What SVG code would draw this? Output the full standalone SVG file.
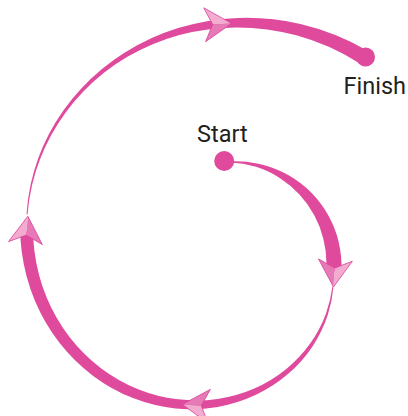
<svg xmlns="http://www.w3.org/2000/svg" xmlns:xlink="http://www.w3.org/1999/xlink" width="408" height="416" viewBox="0 0 408 416">
  <style>
    .band { fill: #df4a9d; stroke: none; }
    .dot { fill: #df4a9d; }
    .lbl { font-family: Roboto, "Liberation Sans", Arial, sans-serif; font-weight: 400; font-size: 23.5px; fill: #231f20; }
  </style>
  <defs>
    <g id="ah">
      <path d="M0,0 L-27,-17 L-19,0 Z" fill="#f3acd0"/>
      <path d="M0,0 L-19,0 L-27,17 Z" fill="#e67ab6"/>
      <path d="M0,0 L-27,-17 L-19,0 L-27,17 Z" fill="none" stroke="#d9449a" stroke-width="0.8" stroke-linejoin="round"/>
    </g>
  </defs>
  <rect width="408" height="416" fill="#ffffff"/>

  <g id="connectors">
    <path id="seg-start" class="band" d="M230,161.5 A103.3,103.3 0 0 1 256.94,163.46 A105,105 0 0 1 282.96,172.27 A106.8,106.8 0 0 1 306.19,187.81 A108.5,108.5 0 0 1 324.69,209.33 A110,110 0 0 1 336.9,235.36 A111,111 0 0 1 341.5,264 A111.5,111.5 0 0 1 341.32,271.78 L326.35,270.74 A96.5,96.5 0 0 0 326.5,264 A96.6,96.6 0 0 0 323.37,238.98 A97,97 0 0 0 314.29,215.33 A97.8,97.8 0 0 0 299.47,194.53 A98.8,98.8 0 0 0 279.71,177.9 A100,100 0 0 0 256.03,166.85 A101,101 0 0 0 230,162.5 Z"/>
    <path id="seg-loop" class="band" d="M333.4,286.9 A124,124 0 0 1 327.75,315.09 A130,130 0 0 1 312.51,346.41 A137,137 0 0 1 288.23,373.84 A145,145 0 0 1 256,394.81 A152,152 0 0 1 217.6,406.95 A159,159 0 0 1 175.53,408.51 A166,166 0 0 1 132.96,398.11 A172,172 0 0 1 93.16,375.94 A179,179 0 0 1 59.45,342.81 A186,186 0 0 1 34.79,300.49 A192,192 0 0 1 21.7,251.5 A197,197 0 0 1 20.15,230.75 L33.08,232.11 A185,185 0 0 0 34.5,251.5 A180,180 0 0 0 46.57,297.33 A174,174 0 0 0 69.49,337.01 A168,168 0 0 0 100.94,368.16 A162,162 0 0 0 138.11,389.19 A156,156 0 0 0 177.99,399.33 A150,150 0 0 0 217.6,398.95 A144,144 0 0 0 254.32,388.53 A139,139 0 0 0 285.73,369.51 A133,133 0 0 0 309.97,343.87 A127,127 0 0 0 325.84,313.99 A122,122 0 0 0 332.44,286.61 Z"/>
    <path id="seg-finish" class="band" d="M26.52,214.36 A196,196 0 0 1 30.87,183.54 A202,202 0 0 1 49.22,133.6 A209,209 0 0 1 81.08,88.8 A216,216 0 0 1 124.84,52.58 A223,223 0 0 1 178.21,28.12 A231,231 0 0 1 238.03,17.97 A238,238 0 0 1 300.37,24.08 A246,246 0 0 1 368.48,51.28 L359.45,63.26 A233,233 0 0 0 296.27,35.36 A227,227 0 0 0 237.2,27.44 A222,222 0 0 0 179.43,35.01 A217,217 0 0 0 126.95,57.11 A212,212 0 0 0 83.33,91.48 A206,206 0 0 0 51.27,135.03 A200,200 0 0 0 32.28,184.05 A195,195 0 0 0 27.5,214.55 Z"/>
    <use href="#ah" xlink:href="#ah" transform="translate(333.5,287) rotate(94)"/>
    <use href="#ah" xlink:href="#ah" transform="translate(182.3,404.4) rotate(184)"/>
    <use href="#ah" xlink:href="#ah" transform="translate(27.8,216.2) rotate(-85)"/>
    <use href="#ah" xlink:href="#ah" transform="translate(231.6,23.4) rotate(-3)"/>
  </g>

  <g id="start">
    <circle class="dot" cx="224.2" cy="161" r="10"/>
    <text class="lbl" x="197" y="142">Start</text>
  </g>

  <g id="finish">
    <circle class="dot" cx="365.5" cy="57" r="9.5"/>
    <text class="lbl" x="343.5" y="94">Finish</text>
  </g>
</svg>
